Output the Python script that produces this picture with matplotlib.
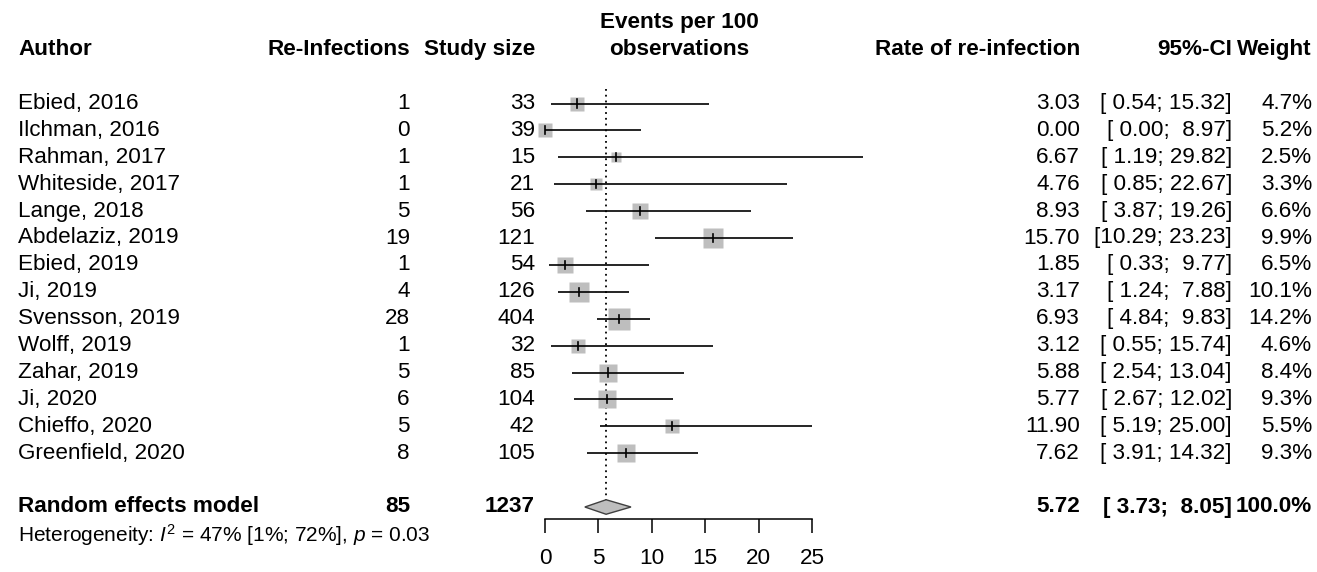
import matplotlib
matplotlib.use('Agg')
import matplotlib.pyplot as plt
import matplotlib.transforms as mtrans
from matplotlib.patches import Polygon
import numpy as np

plt.rcParams['font.family'] = ['Liberation Sans', 'DejaVu Sans']
plt.rcParams['mathtext.fontset'] = 'custom'
plt.rcParams['mathtext.rm'] = 'Liberation Sans'
plt.rcParams['mathtext.it'] = 'Liberation Sans:italic'

# ---------------- data ----------------
authors = ["Ebied, 2016", "Ilchman, 2016", "Rahman, 2017", "Whiteside, 2017",
           "Lange, 2018", "Abdelaziz, 2019", "Ebied, 2019", "Ji, 2019",
           "Svensson, 2019", "Wolff, 2019", "Zahar, 2019", "Ji, 2020",
           "Chieffo, 2020", "Greenfield, 2020"]
events = [1, 0, 1, 1, 5, 19, 1, 4, 28, 1, 5, 6, 5, 8]
sizes = [33, 39, 15, 21, 56, 121, 54, 126, 404, 32, 85, 104, 42, 105]
rates = [3.03, 0.00, 6.67, 4.76, 8.93, 15.70, 1.85, 3.17, 6.93, 3.12, 5.88, 5.77, 11.90, 7.62]
ci_low = [0.54, 0.00, 1.19, 0.85, 3.87, 10.29, 0.33, 1.24, 4.84, 0.55, 2.54, 2.67, 5.19, 3.91]
ci_high = [15.32, 8.97, 29.82, 22.67, 19.26, 23.23, 9.77, 7.88, 9.83, 15.74, 13.04, 12.02, 25.00, 14.32]
weights = [4.7, 5.2, 2.5, 3.3, 6.6, 9.9, 6.5, 10.1, 14.2, 4.6, 8.4, 9.3, 5.5, 9.3]
pooled_rate = 5.72
pooled_low = 3.73
pooled_high = 8.05
total_events = 85
total_size = 1237
total_weight = 100.0
x_ticks = [0, 5, 10, 15, 20, 25]
het_text = r"Heterogeneity: $\mathit{I}^2$ = 47% [1%; 72%], $\mathit{p}$ = 0.03"

# ---------------- layout ----------------
W, H = 1317, 572
fig = plt.figure(figsize=(W / 100, H / 100), dpi=100)
px_per_unit = (812 - 545) / 25.0
xmin, xmax = -1.0, 31.0
left_px = 545 + xmin * px_per_unit
right_px = 545 + xmax * px_per_unit
ax = fig.add_axes([left_px / W, 0, (right_px - left_px) / W, 1])
ax.set_xlim(xmin, xmax)
row0_px, row_h = 103.5, 26.9
ax.set_ylim((H - row0_px) / row_h, -row0_px / row_h)
ax.patch.set_alpha(0)

fs = 16.2
tr = mtrans.blended_transform_factory(fig.transFigure, ax.transData)

def put(xpx, row, s, ha='left', bold=False, size=fs):
    ax.text(xpx / W, row, s, transform=tr, ha=ha, va='center',
            fontsize=size, fontweight='bold' if bold else 'normal',
            clip_on=False)

# headers
put(18, -2, "Author", bold=True)
put(410, -2, "Re-Infections", ha='right', bold=True)
put(535, -2, "Study size", ha='right', bold=True)
put(679, -3, "Events per 100", ha='center', bold=True)
put(679, -2, "observations", ha='center', bold=True)
put(1080, -2, "Rate of re-infection", ha='right', bold=True)
put(1232, -2, "95%-CI", ha='right', bold=True)
put(1312, -2, "Weight", ha='right', bold=True)

n = len(authors)
gray = '#BEBEBE'
for i in range(n):
    put(18, i, authors[i])
    put(410, i, f"{events[i]}", ha='right')
    put(535, i, f"{sizes[i]}", ha='right')
    put(1080, i, f"{rates[i]:.2f}", ha='right')
    put(1232, i, f"[{ci_low[i]:5.2f}; {ci_high[i]:5.2f}]", ha='right')
    put(1312, i, f"{weights[i]:.1f}%", ha='right')
    side_pt = 6.1 * np.sqrt(weights[i]) * 0.72
    ax.plot([rates[i]], [i], marker='s', ms=side_pt, color=gray, mec='none',
            zorder=2, clip_on=False)
    ax.plot([ci_low[i], ci_high[i]], [i, i], color='black', lw=1.2,
            zorder=3, clip_on=False, solid_capstyle='butt')
    ax.plot([rates[i], rates[i]], [i - 0.15, i + 0.15], color='black', lw=1.2,
            zorder=4, clip_on=False)

# pooled row
pr = n + 1
put(18, pr, "Random effects model", bold=True)
put(410, pr, f"{total_events}", ha='right', bold=True)
put(535, pr, f"{total_size}", ha='right', bold=True)
put(1080, pr, f"{pooled_rate:.2f}", ha='right', bold=True)
put(1232, pr, f"[{pooled_low:5.2f}; {pooled_high:5.2f}]", ha='right', bold=True)
put(1312, pr, f"{total_weight:.1f}%", ha='right', bold=True)
put(18, pr + 1.05, het_text, size=15.0)

dh = 0.27
diamond = Polygon([[pooled_low, pr], [pooled_rate, pr - dh],
                   [pooled_high, pr], [pooled_rate, pr + dh]],
                  closed=True, facecolor=gray, edgecolor='#404040', lw=1.0,
                  zorder=3, clip_on=False)
ax.add_patch(diamond)

# dotted reference line
ax.plot([pooled_rate, pooled_rate], [-0.55, pr - dh], color='black', lw=1.3,
        linestyle=(0, (1, 2.2)), zorder=1)

# axis
for s in ['top', 'left', 'right']:
    ax.spines[s].set_visible(False)
ax.spines['bottom'].set_position(('data', pr + 0.45))
ax.spines['bottom'].set_bounds(x_ticks[0], x_ticks[-1])
ax.spines['bottom'].set_linewidth(1.1)
ax.set_xticks(x_ticks)
ax.set_xticklabels([str(t) for t in x_ticks])
ax.tick_params(axis='x', direction='out', length=10, width=1.1, pad=11,
               labelsize=fs)
ax.set_yticks([])

fig.savefig('out.png', dpi=100, facecolor='white')
